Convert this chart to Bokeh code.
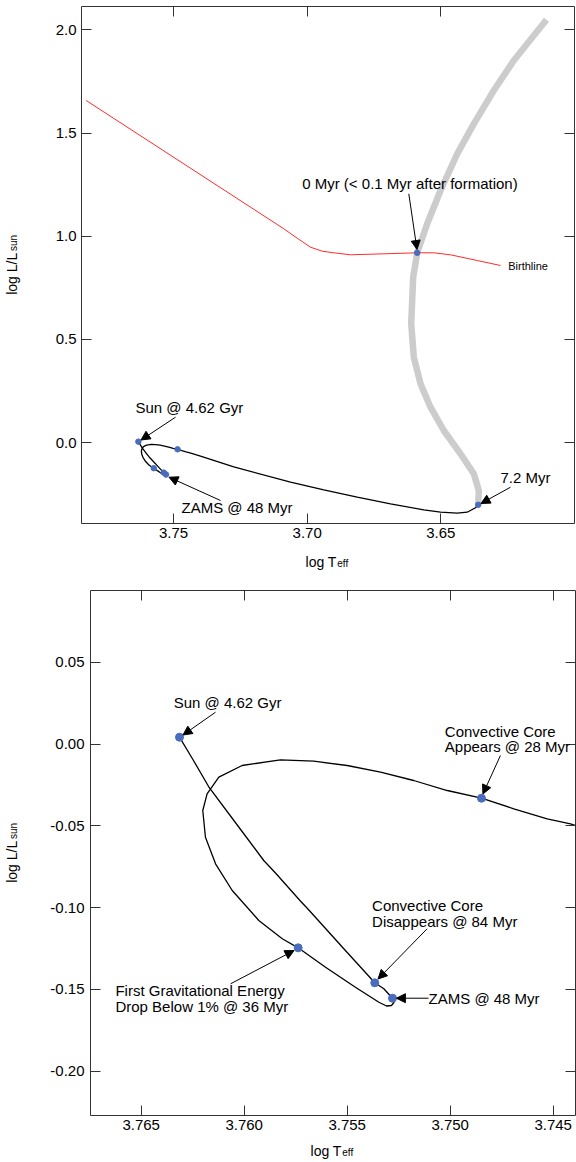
import math
from bokeh.plotting import figure
from bokeh.models import (Range1d, FixedTicker, LinearAxis, NumeralTickFormatter,
                          CustomJSTickFormatter, Label, Arrow, NormalHead)
from bokeh.embed import file_html
from bokeh.resources import INLINE

FONT = "Liberation Sans"
BLUE = "#4a6cbd"
INK = "#333333"

# ---------------- data ----------------
# evolutionary track (log Teff, log L/Lsun) from 7.2 Myr onward to the present Sun
track_logt = [3.63602, 3.63703, 3.64014, 3.64388, 3.65012, 3.65637, 3.66883, 3.68128,
              3.69378, 3.70623, 3.72744, 3.73990, 3.74416, 3.74529, 3.74691, 3.74848,
              3.75014, 3.75177, 3.75338, 3.75500, 3.75662, 3.75824, 3.76010, 3.76123,
              3.76180, 3.76201, 3.76188, 3.76139, 3.76058, 3.75929, 3.75815, 3.75738,
              3.75605, 3.75460, 3.75346, 3.75309, 3.75285, 3.75273, 3.75280, 3.75322,
              3.75366, 3.75524, 3.75686, 3.75727, 3.75848, 3.75905, 3.76010, 3.76172,
              3.76246, 3.76314]
track_logl = [-0.3020, -0.3165, -0.3379, -0.3427, -0.3379, -0.3262, -0.2971, -0.2651,
              -0.2293, -0.1924, -0.1180, -0.0660, -0.04870, -0.04565, -0.03953, -0.03305,
              -0.02834, -0.02222, -0.01714, -0.01305, -0.01042, -0.00956, -0.01305, -0.02020,
              -0.03036, -0.04057, -0.05690, -0.07317, -0.08950, -0.10785, -0.11904, -0.12455,
              -0.13641, -0.14864, -0.15782, -0.16014, -0.15984, -0.15800, -0.15537, -0.14962,
              -0.14595, -0.12406, -0.10143, -0.09592, -0.07880, -0.07115, -0.05341, -0.02607,
              -0.00999, 0.00426]

# early (Hayashi) track, 0 to 7.2 Myr
hayashi_logt = [3.61047, 3.61522, 3.62270, 3.63019, 3.63767, 3.64388, 3.65012, 3.65510,
                3.65884, 3.66034, 3.66071, 3.66108, 3.66011, 3.65760, 3.65386, 3.64889,
                3.64264, 3.63767, 3.63580, 3.63602]
hayashi_logl = [2.0490, 1.9728, 1.8517, 1.7063, 1.5448, 1.3994, 1.2215, 1.0601,
                0.9195, 0.8013, 0.6883, 0.5754, 0.4135, 0.2845, 0.1711, 0.0582,
                -0.0548, -0.1517, -0.2327, -0.3020]

# birthline
birth_logt = [3.78266, 3.70874, 3.70373, 3.69875, 3.69438, 3.69004, 3.68379, 3.67133,
              3.65884, 3.65263, 3.64638, 3.63640, 3.62768]
birth_logl = [1.6578, 1.0359, 0.9903, 0.9467, 0.9273, 0.9195, 0.9098, 0.9147,
              0.9195, 0.9195, 0.9098, 0.8822, 0.8580]

# milestones
mark_names = ["0 Myr", "7.2 Myr", "Sun", "Convective Core Appears", "First Gravitational Energy Drop",
              "Convective Core Disappears", "ZAMS"]
mark_logt = [3.65884, 3.63602, 3.76314, 3.74848, 3.75738, 3.75366, 3.75280]
mark_logl = [0.9195, -0.3020, 0.00426, -0.03305, -0.12455, -0.14595, -0.15537]

top_xticks = [3.75, 3.70, 3.65]
top_yticks = [0.0, 0.5, 1.0, 1.5, 2.0]
bot_xticks = [3.765, 3.760, 3.755, 3.750, 3.745]
bot_yticks = [0.05, 0.0, -0.05, -0.10, -0.15, -0.20]

# ---------------- panel geometry (page pixels) ----------------
TOP = dict(width=576, height=575, bl=81, br=2, bt=6, bb=52,
           x0=3.784415, x1=3.600, ybot=-0.3926, ytop=2.1134, page_x=0, page_y=0)
BOT = dict(width=576, height=587, bl=90, br=1, bt=15, bb=47,
           x0=3.76746, x1=3.743916, ybot=-0.22711, ytop=0.093988, page_x=0, page_y=575)


def px2data(g, px, py):
    fl = g["page_x"] + g["bl"]
    fr = g["page_x"] + g["width"] - g["br"]
    ft = g["page_y"] + g["bt"]
    fb = g["page_y"] + g["height"] - g["bb"]
    x = g["x0"] + (px - fl) / (fr - fl) * (g["x1"] - g["x0"])
    y = g["ytop"] + (py - ft) / (fb - ft) * (g["ybot"] - g["ytop"])
    return x, y


def const_fmt(s):
    return CustomJSTickFormatter(code="return %r;" % s)


def make_panel(g, xticks, yticks, xfmt, yfmt, ystand, xstand):
    p = figure(width=g["width"], height=g["height"],
               x_range=Range1d(g["x0"], g["x1"]), y_range=Range1d(g["ybot"], g["ytop"]),
               output_backend="svg", toolbar_location=None,
               min_border_left=g["bl"], min_border_right=g["br"],
               min_border_top=g["bt"], min_border_bottom=g["bb"])
    p.grid.visible = False
    p.outline_line_color = INK
    p.outline_line_width = 1
    p.background_fill_color = "white"
    p.border_fill_color = "white"
    p.xaxis.ticker = FixedTicker(ticks=xticks)
    p.yaxis.ticker = FixedTicker(ticks=yticks)
    p.xaxis.formatter = NumeralTickFormatter(format=xfmt)
    p.yaxis.formatter = NumeralTickFormatter(format=yfmt)
    for ax, st in ((p.xaxis, xstand), (p.yaxis, ystand)):
        ax.major_tick_in = 10
        ax.major_tick_out = 0
        ax.minor_tick_line_color = None
        ax.major_tick_line_color = INK
        ax.axis_line_color = None
        ax.major_label_text_font = FONT
        ax.major_label_text_font_size = "15px"
        ax.major_label_text_color = "black"
        ax.major_label_standoff = st
    for loc, tk in (("above", xticks), ("right", yticks)):
        ax = LinearAxis(ticker=FixedTicker(ticks=tk), major_tick_in=10, major_tick_out=0,
                        minor_tick_line_color=None, major_tick_line_color=INK,
                        axis_line_color=None, formatter=const_fmt(""),
                        major_label_text_font_size="1px", major_label_text_color=None,
                        major_label_standoff=0)
        p.add_layout(ax, loc)
    return p


def label_axis(p, loc, pos, s, size, standoff, vertical=False):
    """An axis with no ticks that carries one text at a chosen position (axis title parts)."""
    ax = LinearAxis(ticker=FixedTicker(ticks=[pos]), formatter=const_fmt(s),
                    major_tick_in=0, major_tick_out=0, major_tick_line_color=None,
                    minor_tick_line_color=None, axis_line_color=None,
                    major_label_text_font=FONT, major_label_text_font_size=size,
                    major_label_text_color="black", major_label_standoff=standoff)
    if vertical:
        ax.major_label_orientation = "vertical"
    p.add_layout(ax, loc)


def axis_titles(p, g, x_main, x_sub, xs, y_main, y_sub, ys):
    # x title: subscript axis first (closer to frame), main text after it, pulled back up
    label_axis(p, "below", px2data(g, x_sub, 0)[0], "eff", "10px", xs[0])
    label_axis(p, "below", px2data(g, x_main, 0)[0], "log T", "14px", xs[1])
    # y title: main text, then subscript pulled back toward the frame
    label_axis(p, "left", px2data(g, 0, y_main)[1], "log L/L", "14px", ys[0], vertical=True)
    label_axis(p, "left", px2data(g, 0, y_sub)[1], "sun", "10px", ys[1], vertical=True)


def draw_track(p, dot_size, lw):
    p.line(hayashi_logt, hayashi_logl, line_color="#cccccc", line_width=6.5)
    p.line(birth_logt, birth_logl, line_color="#ff2a2a", line_width=1)
    p.line(track_logt, track_logl, line_color="black", line_width=lw)
    p.scatter(mark_logt, mark_logl, size=dot_size, fill_color=BLUE, line_color=BLUE)


def text(p, x, y, s, size="15px", align="left", baseline="middle"):
    p.add_layout(Label(x=x, y=y, text=s, text_font=FONT, text_font_size=size,
                       text_color="black", text_align=align, text_baseline=baseline))


def arrow(p, xs, ys, xe, ye):
    p.add_layout(Arrow(end=NormalHead(size=9, fill_color="black", line_color="black"),
                       x_start=xs, y_start=ys, x_end=xe, y_end=ye,
                       line_color="black", line_width=1))


# ---------------- top panel ----------------
p1 = make_panel(TOP, top_xticks, top_yticks, "0.00", "0.0", 5, 4)
draw_track(p1, 5.5, 1.3)
text(p1, 3.70186, 1.2569, "0 Myr (< 0.1 Myr after formation)")
arrow(p1, 3.66198, 1.2055, 3.65891, 0.9355)
text(p1, 3.62480, 0.8556, "Birthline", size="11px")
text(p1, 3.76421, 0.1711, "Sun @ 4.62 Gyr")
arrow(p1, 3.74925, 0.1226, 3.76216, 0.0121)
text(p1, 3.74701, -0.3136, "ZAMS @ 48 Myr")
arrow(p1, 3.73242, -0.2811, 3.75168, -0.1682)
text(p1, 3.62768, -0.1682, "7.2 Myr")
arrow(p1, 3.62394, -0.2167, 3.63497, -0.2957)
axis_titles(p1, TOP, 320.6, 342.2, (17, -18), 273.3, 242.5, (32, -17))

# ---------------- bottom panel ----------------
p2 = make_panel(BOT, bot_xticks, bot_yticks, "0.000", "0.00", 6, 4)
draw_track(p2, 8, 1.3)
text(p2, 3.76342, 0.02530, "Sun @ 4.62 Gyr")
arrow(p2, 3.76139, 0.01955, 3.76297, 0.00561)
text(p2, 3.75026, 0.00775, "Convective Core")
text(p2, 3.75026, -0.00143, "Appears @ 28 Myr")
arrow(p2, 3.74756, -0.00693, 3.74841, -0.03048)
text(p2, 3.75379, -0.09868, "Convective Core")
text(p2, 3.75379, -0.10828, "Disappears @ 84 Myr")
arrow(p2, 3.75112, -0.11292, 3.75350, -0.14363)
text(p2, 3.75105, -0.15537, "ZAMS @ 48 Myr")
arrow(p2, 3.75105, -0.15537, 3.75261, -0.15537)
text(p2, 3.76625, -0.15066, "First Gravitational Energy")
text(p2, 3.76625, -0.16026, "Drop Below 1% @ 36 Myr")
arrow(p2, 3.76066, -0.14656, 3.75758, -0.12620)
axis_titles(p2, BOT, 325.6, 347.2, (14, -18), 861.3, 830.5, (27, -17))

# two independent roots, stacked on the page (keeps each panel's own frame position)
open("out.html", "w").write(file_html([p1, p2], INLINE))
